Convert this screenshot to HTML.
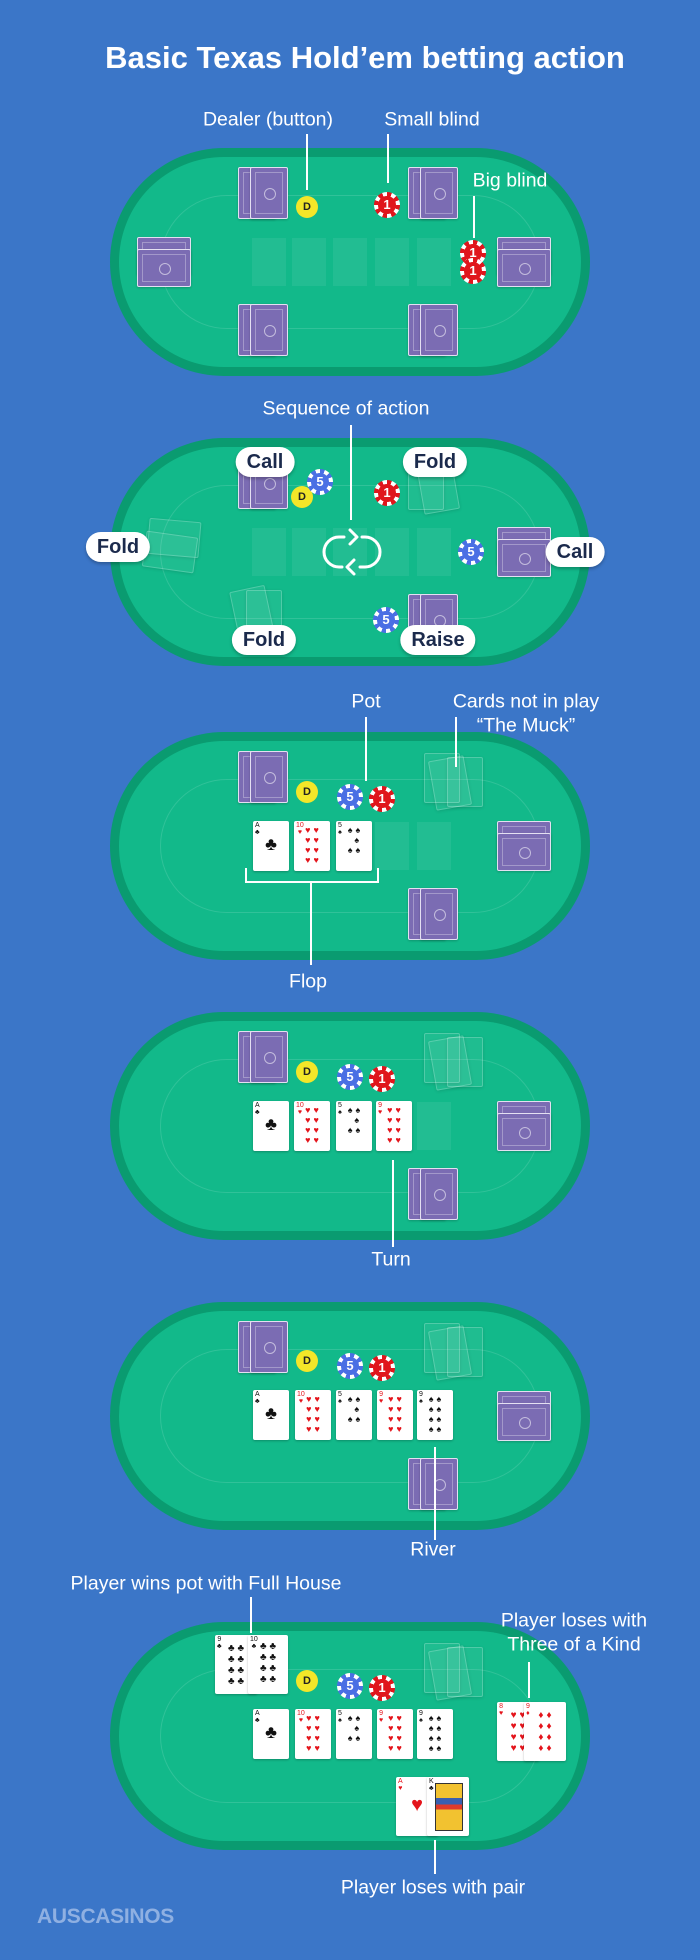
<!DOCTYPE html>
<html><head><meta charset="utf-8"><style>
*{margin:0;padding:0;box-sizing:border-box}
body{width:700px;height:1960px;background:#3b76c8;position:relative;overflow:hidden;font-family:"Liberation Sans",sans-serif;color:#fff}
.a{position:absolute}
.lbl{position:absolute;font-size:19.5px;color:#fff;text-align:center;white-space:nowrap;transform:translate(-50%,-50%);z-index:5}
.vl{position:absolute;width:2px;background:#fff;z-index:5}
.t{position:absolute;left:110px;width:480px;height:228px;border-radius:114px;background:#0a9b70}
.t .in{position:absolute;left:9px;top:9px;right:9px;bottom:9px;border-radius:105px;background:#12b98a}
.t .ln{position:absolute;left:50px;top:47px;width:380px;height:134px;border-radius:67px;border:1.5px solid rgba(255,255,255,.13)}
.cb{position:absolute;width:38px;height:52px;background:#7b6cb3;border:1.5px solid #e4e0f2;border-radius:2px;box-shadow:0 1px 2px rgba(0,0,0,.2)}
.cb::before{content:"";position:absolute;left:4px;top:4px;right:4px;bottom:4px;border:1px solid rgba(255,255,255,.3)}
.cb::after{content:"";position:absolute;left:50%;top:50%;width:10px;height:10px;margin:-5px 0 0 -5px;border-radius:50%;border:1.5px solid rgba(255,255,255,.55)}
.ch{width:54px;height:38px}
.mk{position:absolute;width:36px;height:50px;background:rgba(255,255,255,.06);border:1.5px solid rgba(255,255,255,.22);border-radius:2px;box-shadow:0 1px 3px rgba(0,0,0,.12)}
.sl{position:absolute;top:90px;width:34px;height:48px;background:rgba(255,255,255,.07)}
.fc{position:absolute;width:36px;height:50px;background:#fff;border-radius:2px;box-shadow:0 1px 2px rgba(0,0,0,.25);color:#111;overflow:hidden}
.fc i{position:absolute;left:2px;top:1px;font-style:normal;font-size:7px;line-height:7px;text-align:center}
.fc b{position:absolute;left:0;right:0;top:13px;text-align:center;font-size:18px;line-height:20px;font-weight:normal}
.fc u{position:absolute;left:6px;right:3px;top:4px;text-decoration:none;font-size:9px;line-height:10px;text-align:center;letter-spacing:3px}
.r{color:#e4141b}
.D{position:absolute;width:22px;height:22px;border-radius:50%;background:#f3e629;color:#222;font-weight:bold;font-size:11px;text-align:center;line-height:22px}
.chip{position:absolute;width:26px;height:26px;border-radius:50%;background:repeating-conic-gradient(#e0161c 0 22.5deg,#fff 0 45deg)}
.chip span{position:absolute;left:4px;top:4px;width:18px;height:18px;border-radius:50%;background:#e0161c;font-weight:bold;font-size:13px;line-height:18px;text-align:center;color:#fff}
.chip.b{background:repeating-conic-gradient(#4a6fe4 0 22.5deg,#fff 0 45deg)}
.chip.b span{background:#4a6fe4}
.pill{position:absolute;height:30px;padding:0 11px;background:#fff;border-radius:15px;color:#1b2a4c;font-weight:bold;font-size:20px;line-height:30px;transform:translate(-50%,-50%);box-shadow:0 2px 3px rgba(0,0,0,.25);white-space:nowrap;z-index:6}
</style></head><body>

<div class="a" style="left:0;width:730px;top:40px;text-align:center;font-weight:bold;font-size:31px;">Basic Texas Hold’em betting action</div>

<!-- TABLE 1 -->
<div class="lbl" style="left:268px;top:120px">Dealer (button)</div>
<div class="vl" style="left:306px;top:134px;height:56px"></div>
<div class="lbl" style="left:432px;top:120px">Small blind</div>
<div class="vl" style="left:387px;top:134px;height:49px"></div>
<div class="t" style="top:148px"><div class="in"></div><div class="ln"></div>
<div class="sl" style="left:142px"></div><div class="sl" style="left:182px"></div><div class="sl" style="left:223px"></div><div class="sl" style="left:265px"></div><div class="sl" style="left:307px"></div>
<div class="cb" style="left:128px;top:19px"></div><div class="cb" style="left:140px;top:19px"></div>
<div class="cb" style="left:298px;top:19px"></div><div class="cb" style="left:310px;top:19px"></div>
<div class="cb" style="left:128px;top:156px"></div><div class="cb" style="left:140px;top:156px"></div>
<div class="cb" style="left:298px;top:156px"></div><div class="cb" style="left:310px;top:156px"></div>
<div class="cb ch" style="left:27px;top:89px"></div><div class="cb ch" style="left:27px;top:101px"></div>
<div class="cb ch" style="left:387px;top:89px"></div><div class="cb ch" style="left:387px;top:101px"></div>
<div class="D" style="left:186px;top:48px">D</div>
<div class="chip" style="left:264px;top:44px"><span>1</span></div>
<div class="chip" style="left:350px;top:92px"><span>1</span></div>
<div class="chip" style="left:350px;top:110px"><span>1</span></div>
</div>
<div class="lbl" style="left:510px;top:181px">Big blind</div>
<div class="vl" style="left:473px;top:196px;height:42px"></div>

<!-- TABLE 2 -->
<div class="lbl" style="left:346px;top:409px">Sequence of action</div>
<div class="t" style="top:438px"><div class="in"></div><div class="ln"></div>
<div class="sl" style="left:142px"></div><div class="sl" style="left:182px"></div><div class="sl" style="left:223px"></div><div class="sl" style="left:265px"></div><div class="sl" style="left:307px"></div>
<div class="cb" style="left:128px;top:19px"></div><div class="cb" style="left:140px;top:19px"></div>
<div class="mk" style="left:298px;top:22px"></div><div class="mk" style="left:310px;top:24px;transform:rotate(-10deg)"></div>
<div class="mk" style="left:38px;top:82px;width:52px;height:36px;transform:rotate(5deg)"></div><div class="mk" style="left:34px;top:96px;width:52px;height:36px;transform:rotate(8deg)"></div>
<div class="mk" style="left:136px;top:152px"></div><div class="mk" style="left:124px;top:150px;transform:rotate(-12deg)"></div>
<div class="cb" style="left:298px;top:156px"></div><div class="cb" style="left:310px;top:156px"></div>
<div class="cb ch" style="left:387px;top:89px"></div><div class="cb ch" style="left:387px;top:101px"></div>
<div class="D" style="left:181px;top:48px">D</div>
<div class="chip b" style="left:197px;top:31px"><span>5</span></div>
<div class="chip" style="left:264px;top:42px"><span>1</span></div>
<div class="chip b" style="left:348px;top:101px"><span>5</span></div>
<div class="chip b" style="left:263px;top:169px"><span>5</span></div>
<svg class="a" style="left:210px;top:88px" width="64" height="52" viewBox="0 0 64 52"><g fill="none" stroke="#fff" stroke-width="3" stroke-linecap="round" stroke-linejoin="round"><path d="M24 11 H19 A15 15 0 0 0 19 41 H22"/><path d="M40 41 H45 A15 15 0 0 0 45 11 H42"/><path d="M30 4 L37 11 L30 18"/><path d="M34 34 L27 41 L34 48"/></g></svg>
</div>
<div class="vl" style="left:350px;top:425px;height:95px"></div>
<div class="pill" style="left:265px;top:462px">Call</div>
<div class="pill" style="left:435px;top:462px">Fold</div>
<div class="pill" style="left:118px;top:547px">Fold</div>
<div class="pill" style="left:575px;top:552px">Call</div>
<div class="pill" style="left:264px;top:640px">Fold</div>
<div class="pill" style="left:438px;top:640px">Raise</div>

<!-- TABLE 3 -->
<div class="lbl" style="left:366px;top:702px">Pot</div>
<div class="vl" style="left:365px;top:717px;height:64px"></div>
<div class="lbl" style="left:526px;top:702px">Cards not in play</div>
<div class="lbl" style="left:526px;top:726px">“The Muck”</div>
<div class="vl" style="left:455px;top:717px;height:50px"></div>
<div class="t" style="top:732px"><div class="in"></div><div class="ln"></div>
<div class="sl" style="left:265px"></div><div class="sl" style="left:307px"></div>
<div class="cb" style="left:128px;top:19px"></div><div class="cb" style="left:140px;top:19px"></div>
<div class="mk" style="left:314px;top:21px"></div><div class="mk" style="left:337px;top:25px"></div><div class="mk" style="left:322px;top:26px;transform:rotate(-10deg)"></div>
<div class="cb" style="left:298px;top:156px"></div><div class="cb" style="left:310px;top:156px"></div>
<div class="cb ch" style="left:387px;top:89px"></div><div class="cb ch" style="left:387px;top:101px"></div>
<div class="D" style="left:186px;top:49px">D</div>
<div class="chip b" style="left:227px;top:52px"><span>5</span></div>
<div class="chip" style="left:259px;top:54px"><span>1</span></div>
<div class="fc" style="left:143px;top:89px"><i>A<br>♣</i><b>♣</b></div>
<div class="fc r" style="left:184px;top:89px"><i>10<br>♥</i><u>♥♥<br>♥♥<br>♥♥<br>♥♥</u></div>
<div class="fc" style="left:226px;top:89px"><i>5<br>♠</i><u>♠♠<br>&nbsp;♠<br>♠♠</u></div>
</div>
<div class="a" style="left:245px;top:868px;width:134px;height:15px;border:2px solid #fff;border-top:none;z-index:5"></div>
<div class="vl" style="left:310px;top:883px;height:82px"></div>
<div class="lbl" style="left:308px;top:982px">Flop</div>

<!-- TABLE 4 -->
<div class="t" style="top:1012px"><div class="in"></div><div class="ln"></div>
<div class="sl" style="left:307px"></div>
<div class="cb" style="left:128px;top:19px"></div><div class="cb" style="left:140px;top:19px"></div>
<div class="mk" style="left:314px;top:21px"></div><div class="mk" style="left:337px;top:25px"></div><div class="mk" style="left:322px;top:26px;transform:rotate(-10deg)"></div>
<div class="cb" style="left:298px;top:156px"></div><div class="cb" style="left:310px;top:156px"></div>
<div class="cb ch" style="left:387px;top:89px"></div><div class="cb ch" style="left:387px;top:101px"></div>
<div class="D" style="left:186px;top:49px">D</div>
<div class="chip b" style="left:227px;top:52px"><span>5</span></div>
<div class="chip" style="left:259px;top:54px"><span>1</span></div>
<div class="fc" style="left:143px;top:89px"><i>A<br>♣</i><b>♣</b></div>
<div class="fc r" style="left:184px;top:89px"><i>10<br>♥</i><u>♥♥<br>♥♥<br>♥♥<br>♥♥</u></div>
<div class="fc" style="left:226px;top:89px"><i>5<br>♠</i><u>♠♠<br>&nbsp;♠<br>♠♠</u></div>
<div class="fc r" style="left:266px;top:89px"><i>9<br>♥</i><u>♥♥<br>♥♥<br>♥♥<br>♥♥</u></div>
</div>
<div class="vl" style="left:392px;top:1160px;height:87px"></div>
<div class="lbl" style="left:391px;top:1260px">Turn</div>

<!-- TABLE 5 -->
<div class="t" style="top:1302px"><div class="in"></div><div class="ln"></div>
<div class="cb" style="left:128px;top:19px"></div><div class="cb" style="left:140px;top:19px"></div>
<div class="mk" style="left:314px;top:21px"></div><div class="mk" style="left:337px;top:25px"></div><div class="mk" style="left:322px;top:26px;transform:rotate(-10deg)"></div>
<div class="cb" style="left:298px;top:156px"></div><div class="cb" style="left:310px;top:156px"></div>
<div class="cb ch" style="left:387px;top:89px"></div><div class="cb ch" style="left:387px;top:101px"></div>
<div class="D" style="left:186px;top:48px">D</div>
<div class="chip b" style="left:227px;top:51px"><span>5</span></div>
<div class="chip" style="left:259px;top:53px"><span>1</span></div>
<div class="fc" style="left:143px;top:88px"><i>A<br>♣</i><b>♣</b></div>
<div class="fc r" style="left:185px;top:88px"><i>10<br>♥</i><u>♥♥<br>♥♥<br>♥♥<br>♥♥</u></div>
<div class="fc" style="left:226px;top:88px"><i>5<br>♠</i><u>♠♠<br>&nbsp;♠<br>♠♠</u></div>
<div class="fc r" style="left:267px;top:88px"><i>9<br>♥</i><u>♥♥<br>♥♥<br>♥♥<br>♥♥</u></div>
<div class="fc" style="left:307px;top:88px"><i>9<br>♠</i><u>♠♠<br>♠♠<br>♠♠<br>♠♠</u></div>
</div>
<div class="vl" style="left:434px;top:1447px;height:93px"></div>
<div class="lbl" style="left:433px;top:1550px">River</div>

<!-- TABLE 6 -->
<div class="lbl" style="left:206px;top:1584px">Player wins pot with Full House</div>
<div class="vl" style="left:250px;top:1597px;height:36px"></div>
<div class="lbl" style="left:574px;top:1621px">Player loses with</div>
<div class="lbl" style="left:574px;top:1645px">Three of a Kind</div>
<div class="t" style="top:1622px"><div class="in"></div><div class="ln"></div>
<div class="fc" style="left:105px;top:13px;width:42px;height:59px"><i>9<br>♣</i><u style="top:8px;font-size:10px;line-height:11px">♣♣<br>♣♣<br>♣♣<br>♣♣</u></div>
<div class="fc" style="left:138px;top:13px;width:40px;height:59px"><i>10<br>♣</i><u style="top:6px;font-size:10px;line-height:11px">♣♣<br>♣♣<br>♣♣<br>♣♣</u></div>
<div class="mk" style="left:314px;top:21px"></div><div class="mk" style="left:337px;top:25px"></div><div class="mk" style="left:322px;top:26px;transform:rotate(-10deg)"></div>
<div class="D" style="left:186px;top:48px">D</div>
<div class="chip b" style="left:227px;top:51px"><span>5</span></div>
<div class="chip" style="left:259px;top:53px"><span>1</span></div>
<div class="fc" style="left:143px;top:87px"><i>A<br>♣</i><b>♣</b></div>
<div class="fc r" style="left:185px;top:87px"><i>10<br>♥</i><u>♥♥<br>♥♥<br>♥♥<br>♥♥</u></div>
<div class="fc" style="left:226px;top:87px"><i>5<br>♠</i><u>♠♠<br>&nbsp;♠<br>♠♠</u></div>
<div class="fc r" style="left:267px;top:87px"><i>9<br>♥</i><u>♥♥<br>♥♥<br>♥♥<br>♥♥</u></div>
<div class="fc" style="left:307px;top:87px"><i>9<br>♠</i><u>♠♠<br>♠♠<br>♠♠<br>♠♠</u></div>
<div class="fc r" style="left:387px;top:80px;width:42px;height:59px"><i>8<br>♥</i><u style="top:8px;font-size:10px;line-height:11px">♥♥<br>♥♥<br>♥♥<br>♥♥</u></div>
<div class="fc r" style="left:414px;top:80px;width:42px;height:59px"><i>9<br>♦</i><u style="top:8px;font-size:10px;line-height:11px">♦♦<br>♦♦<br>♦♦<br>♦♦</u></div>
<div class="fc r" style="left:286px;top:155px;width:42px;height:59px"><i>A<br>♥</i><b style="top:18px;font-size:20px">♥</b></div>
<div class="fc" style="left:317px;top:155px;width:42px;height:59px"><i>K<br>♣</i><div class="a" style="left:8px;top:6px;width:28px;height:48px;border:1px solid #333;background:linear-gradient(#f2c230 0 30%,#3a5fb0 30% 45%,#e03a2a 45% 55%,#f2c230 55%)"></div></div>
</div>
<div class="vl" style="left:528px;top:1662px;height:36px"></div>
<div class="vl" style="left:434px;top:1840px;height:34px"></div>
<div class="lbl" style="left:433px;top:1888px">Player loses with pair</div>

<div class="a" style="left:37px;top:1905px;font-weight:bold;font-size:21px;color:#8fb0e2;letter-spacing:-0.3px">AUSCASINOS</div>
</body></html>
